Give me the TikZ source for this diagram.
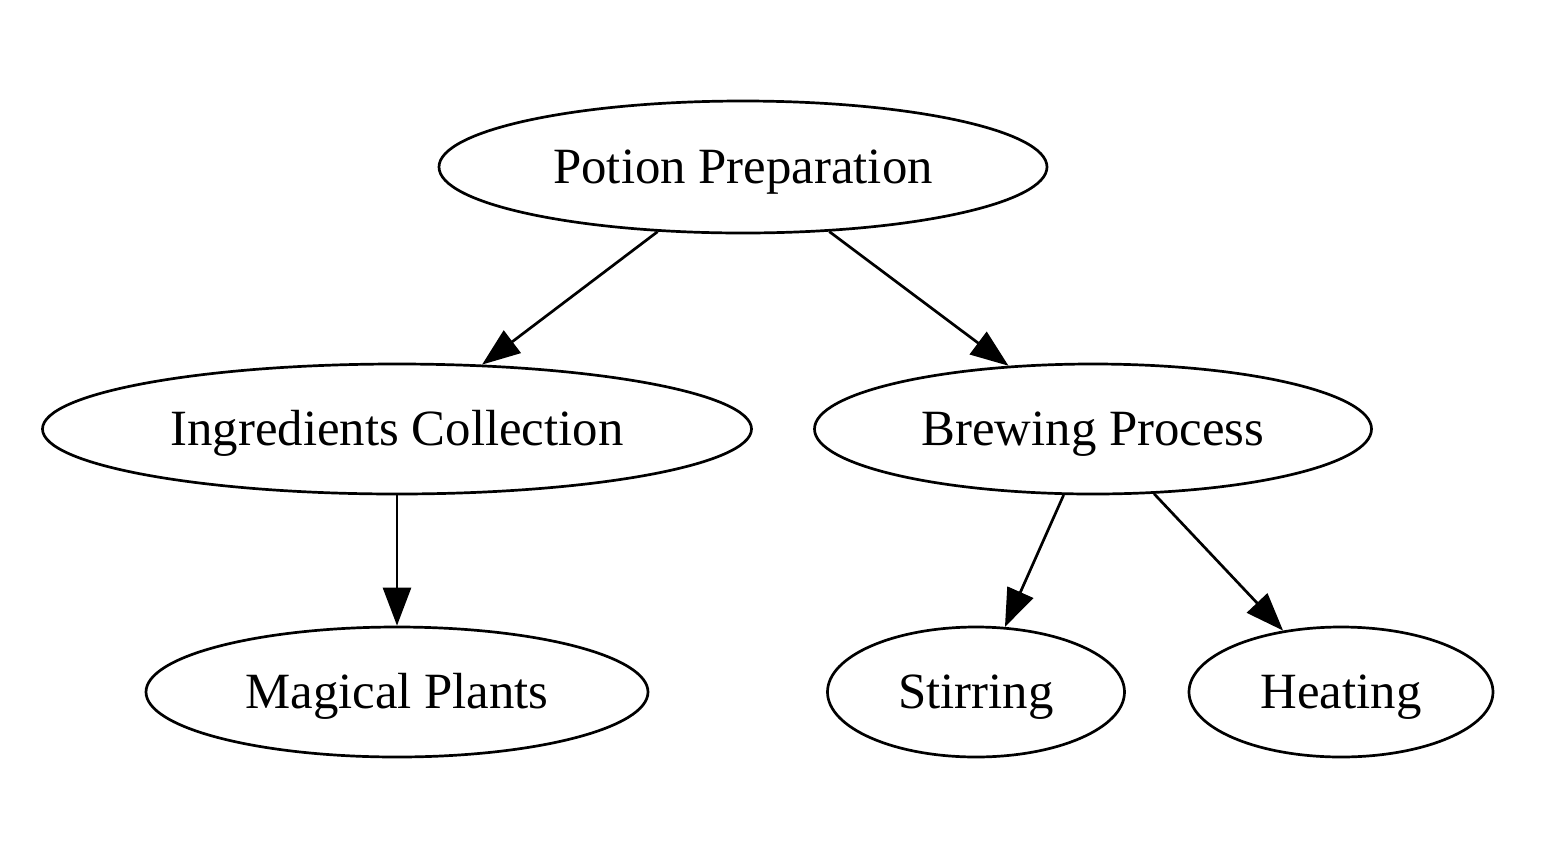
\documentclass[tikz,border=0pt]{standalone}
\usepackage{fontspec}
\setmainfont{Liberation Serif}
\usetikzlibrary{shapes.geometric,arrows.meta}
\tikzset{
  gnode/.style={ellipse, draw, line width=1.35pt, inner sep=0pt, text height=22pt, text depth=6pt, font=\fontsize{25.4}{28}\selectfont},
  gedge/.style={line width=1.35pt, -{Triangle[length=19pt,width=14pt]}}
}
\begin{document}
\begin{tikzpicture}[x=0.5pt,y=-0.5pt]
\useasboundingbox (0,0) rectangle (1554,858);
\node[gnode, minimum width=304pt, minimum height=66pt] (potion) at (743,167) {Potion Preparation};
\node[gnode, minimum width=354.5pt, minimum height=65pt] (ingr) at (397,429) {Ingredients Collection};
\node[gnode, minimum width=278.5pt, minimum height=65pt] (brew) at (1093,429) {Brewing Process};
\node[gnode, minimum width=251pt, minimum height=65pt] (magic) at (397,692) {Magical Plants};
\node[gnode, minimum width=148.5pt, minimum height=65pt] (stir) at (976,692) {Stirring};
\node[gnode, minimum width=152pt, minimum height=65pt] (heat) at (1341,692) {Heating};
\draw[gedge] (potion) -- (ingr);
\draw[gedge] (potion) -- (brew);
\draw[gedge] (ingr) -- (magic);
\draw[gedge] (brew) -- (stir);
\draw[gedge] (brew) -- (heat);
\end{tikzpicture}
\end{document}
